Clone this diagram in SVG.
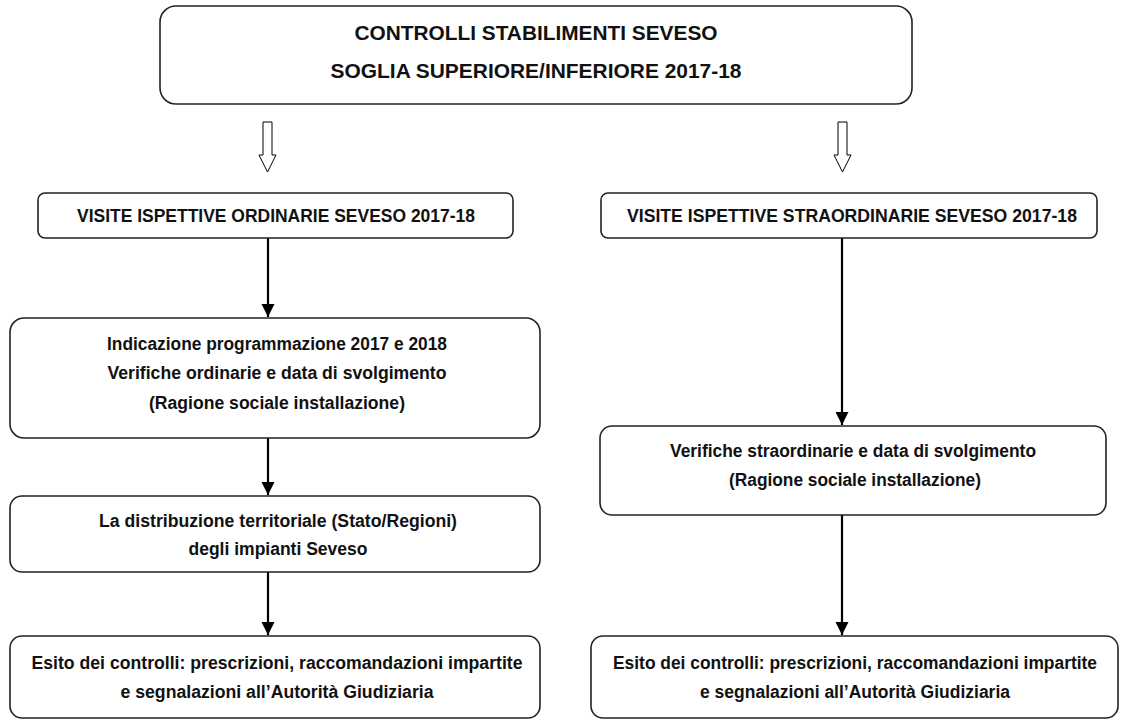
<svg xmlns="http://www.w3.org/2000/svg" width="1122" height="721" viewBox="0 0 1122 721">
<defs>
<style>
.box{fill:#fff;stroke:#222;stroke-width:1.6}
.t{font-family:"Liberation Sans Narrow","Liberation Sans",Arial,sans-serif;font-weight:bold;fill:#111;text-anchor:middle}
.t16{font-size:18px}
.th{font-size:18px}
.t18{font-size:20px}
.con{stroke:#000;stroke-width:2.2;fill:none}
.hollow{fill:#fff;stroke:#000;stroke-width:1}
</style>
<marker id="ah" viewBox="0 0 10 10" refX="10" refY="5" markerWidth="6" markerHeight="6" markerUnits="strokeWidth" orient="auto">
<path d="M0,0 L10,5 L0,10 Z" fill="#000"/>
</marker>
</defs>
<rect width="1122" height="721" fill="#fff"/>

<g id="connectors">
<polygon class="hollow" points="263,122 272,122 272,155 276,155 267.5,172 259,155 263,155"/>
<polygon class="hollow" points="838,122 847,122 847,155 851,155 842.5,172 834,155 838,155"/>
<line class="con" x1="268" y1="238" x2="268" y2="317" marker-end="url(#ah)"/>
<line class="con" x1="268" y1="438" x2="268" y2="495" marker-end="url(#ah)"/>
<line class="con" x1="268" y1="572" x2="268" y2="635" marker-end="url(#ah)"/>
<line class="con" x1="842" y1="238" x2="842" y2="425" marker-end="url(#ah)"/>
<line class="con" x1="842" y1="515" x2="842" y2="635" marker-end="url(#ah)"/>
</g>

<g id="n-top">
<rect class="box" x="160" y="6" width="752" height="98" rx="16"/>
<text class="t t18" x="536" y="40" textLength="363" lengthAdjust="spacingAndGlyphs">CONTROLLI STABILIMENTI SEVESO</text>
<text class="t t18" x="536" y="78" textLength="411" lengthAdjust="spacingAndGlyphs">SOGLIA SUPERIORE/INFERIORE 2017-18</text>
</g>

<g id="n-ord">
<rect class="box" x="38" y="193" width="475" height="45" rx="7"/>
<text class="t th" x="276" y="222" textLength="398" lengthAdjust="spacingAndGlyphs">VISITE ISPETTIVE ORDINARIE SEVESO 2017-18</text>
</g>

<g id="n-straord">
<rect class="box" x="601" y="193" width="496" height="45" rx="7"/>
<text class="t th" x="852" y="222" textLength="450" lengthAdjust="spacingAndGlyphs">VISITE ISPETTIVE STRAORDINARIE SEVESO 2017-18</text>
</g>

<g id="n-indicazione">
<rect class="box" x="10" y="318" width="530" height="120" rx="14"/>
<text class="t t16" x="277" y="350" textLength="340" lengthAdjust="spacingAndGlyphs">Indicazione programmazione 2017 e 2018</text>
<text class="t t16" x="277" y="379" textLength="339" lengthAdjust="spacingAndGlyphs">Verifiche ordinarie e data di svolgimento</text>
<text class="t t16" x="277" y="409" textLength="256" lengthAdjust="spacingAndGlyphs">(Ragione sociale installazione)</text>
</g>

<g id="n-distribuzione">
<rect class="box" x="10" y="496" width="530" height="76" rx="12"/>
<text class="t t16" x="278" y="527" textLength="358" lengthAdjust="spacingAndGlyphs">La distribuzione territoriale (Stato/Regioni)</text>
<text class="t t16" x="278" y="555" textLength="179" lengthAdjust="spacingAndGlyphs">degli impianti Seveso</text>
</g>

<g id="n-esito-ord">
<rect class="box" x="10" y="636" width="530" height="82" rx="12"/>
<text class="t t16" x="277" y="669" textLength="491" lengthAdjust="spacingAndGlyphs">Esito dei controlli: prescrizioni, raccomandazioni impartite</text>
<text class="t t16" x="277" y="698" textLength="313" lengthAdjust="spacingAndGlyphs">e segnalazioni all’Autorità Giudiziaria</text>
</g>

<g id="n-verifiche-straord">
<rect class="box" x="600" y="426" width="506" height="89" rx="12"/>
<text class="t t16" x="853" y="457" textLength="366" lengthAdjust="spacingAndGlyphs">Verifiche straordinarie e data di svolgimento</text>
<text class="t t16" x="855" y="486" textLength="252" lengthAdjust="spacingAndGlyphs">(Ragione sociale installazione)</text>
</g>

<g id="n-esito-straord">
<rect class="box" x="591" y="636" width="527" height="82" rx="12"/>
<text class="t t16" x="855" y="669" textLength="484" lengthAdjust="spacingAndGlyphs">Esito dei controlli: prescrizioni, raccomandazioni impartite</text>
<text class="t t16" x="855" y="698" textLength="310" lengthAdjust="spacingAndGlyphs">e segnalazioni all’Autorità Giudiziaria</text>
</g>
</svg>
